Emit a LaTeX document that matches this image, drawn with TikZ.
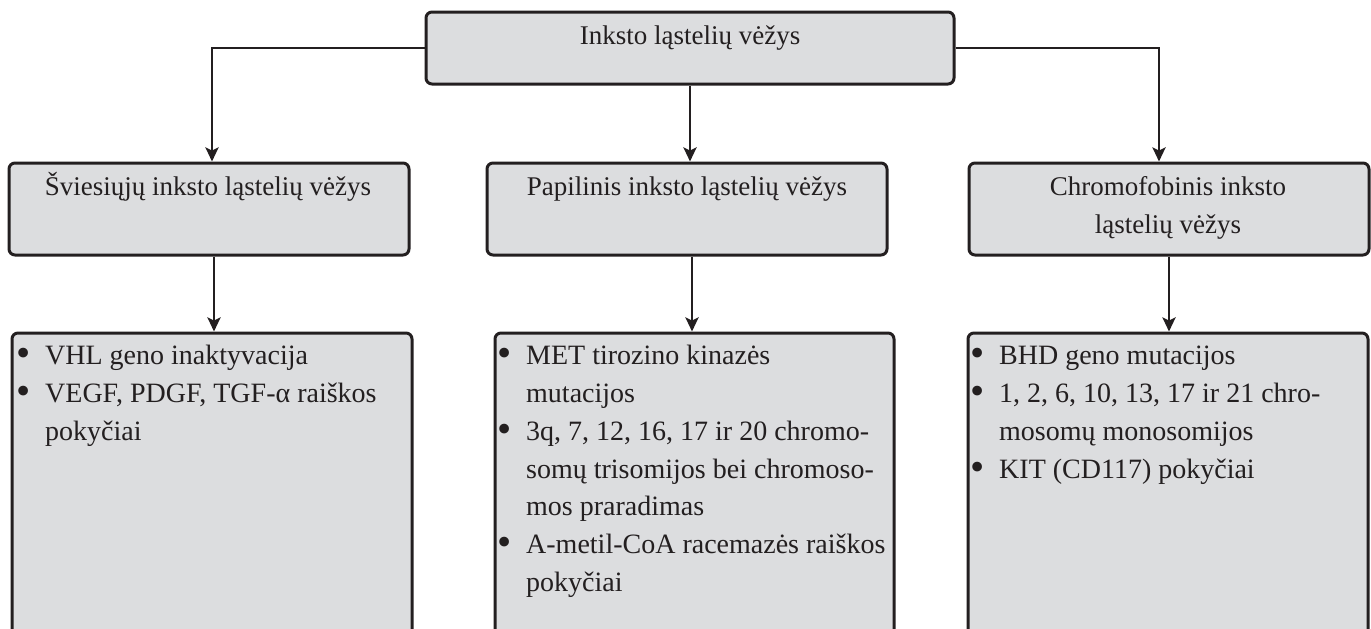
\documentclass[tikz,border=0pt]{standalone}
\usepackage{fontspec}
\usepackage{graphicx}
\setmainfont{Liberation Serif}
\usetikzlibrary{arrows.meta}
\definecolor{boxfill}{HTML}{DCDDDF}
\definecolor{ink}{HTML}{231F20}
\newcommand{\tstrut}{\rule{0pt}{30pt}}
\newcommand{\bul}{\makebox[29pt][l]{\raisebox{-2pt}{\scalebox{1.45}{\textbullet}}}}
\newcommand{\ind}{\hspace*{29pt}}
\begin{document}
\begin{tikzpicture}[x=1pt,y=-1pt,
  box/.style={draw=ink, fill=boxfill, line width=3pt, rounded corners=6pt, rectangle, inner sep=0pt},
  txt/.style={text=ink, font=\fontsize{27}{37.8}\selectfont, inner sep=0pt},
  btxt/.style={text=ink, font=\fontsize{28}{37.8}\selectfont, inner sep=0pt},
  arr/.style={draw=ink, line width=2.7pt, -{Stealth[length=14pt,width=13pt,inset=3pt]}}]
\useasboundingbox (0,0) rectangle (1371,629);
\clip (0,0) rectangle (1371,629);
% boxes
\node[box, minimum width=528pt, minimum height=72pt] (top) at (690,48) {};
\node[box, minimum width=400pt, minimum height=92pt] (m1) at (209,209) {};
\node[box, minimum width=400pt, minimum height=92pt] (m2) at (687,209) {};
\node[box, minimum width=400pt, minimum height=92pt] (m3) at (1169,209) {};
\node[box, minimum width=400pt, minimum height=310pt] (b1) at (212,488) {};
\node[box, minimum width=399pt, minimum height=310pt] (b2) at (694.5,488) {};
\node[box, minimum width=400pt, minimum height=310pt] (b3) at (1168,488) {};
% texts
\node[txt, anchor=north] (topT) at (690,14) {\tstrut Inksto ląstelių vėžys};
\node[txt, anchor=north] (m1T) at (208,165) {\tstrut Šviesiųjų inksto ląstelių vėžys};
\node[txt, anchor=north] (m2T) at (687,165) {\tstrut Papilinis inksto ląstelių vėžys};
\node[txt, anchor=north, align=center] (m3T) at (1168,165) {\tstrut Chromofobinis inksto\\ląstelių vėžys};
\node[btxt, anchor=north west, align=left] (b1T) at (16,334.5) {\tstrut\bul VHL geno inaktyvacija\\
\bul VEGF, PDGF, TGF-α raiškos\\
\ind pokyčiai};
\node[btxt, anchor=north west, align=left] (b2T) at (497,334.5) {\tstrut\bul MET tirozino kinazės\\
\ind mutacijos\\
\bul 3q, 7, 12, 16, 17 ir 20 chromo-\\
\ind somų trisomijos bei chromoso-\\
\ind mos praradimas\\
\bul A-metil-CoA racemazės raiškos\\
\ind pokyčiai};
\node[btxt, anchor=north west, align=left] (b3T) at (970,334.5) {\tstrut\bul BHD geno mutacijos\\
\bul 1, 2, 6, 10, 13, 17 ir 21 chro-\\
\ind mosomų monosomijos\\
\bul KIT (CD117) pokyčiai};
% connectors
\draw[arr] (top.west) -| ([xshift=3pt]m1.north);
\draw[arr] (top.east) -| ([xshift=-10pt]m3.north);
\draw[arr] (top.south) -- (top.south |- m2.north);
\draw[arr] ([xshift=5pt]m1.south) -- ([xshift=5pt]m1.south |- b1.north);
\draw[arr] ([xshift=5pt]m2.south) -- ([xshift=5pt]m2.south |- b2.north);
\draw[arr] (m3.south) -- (m3.south |- b3.north);
\end{tikzpicture}
\end{document}
